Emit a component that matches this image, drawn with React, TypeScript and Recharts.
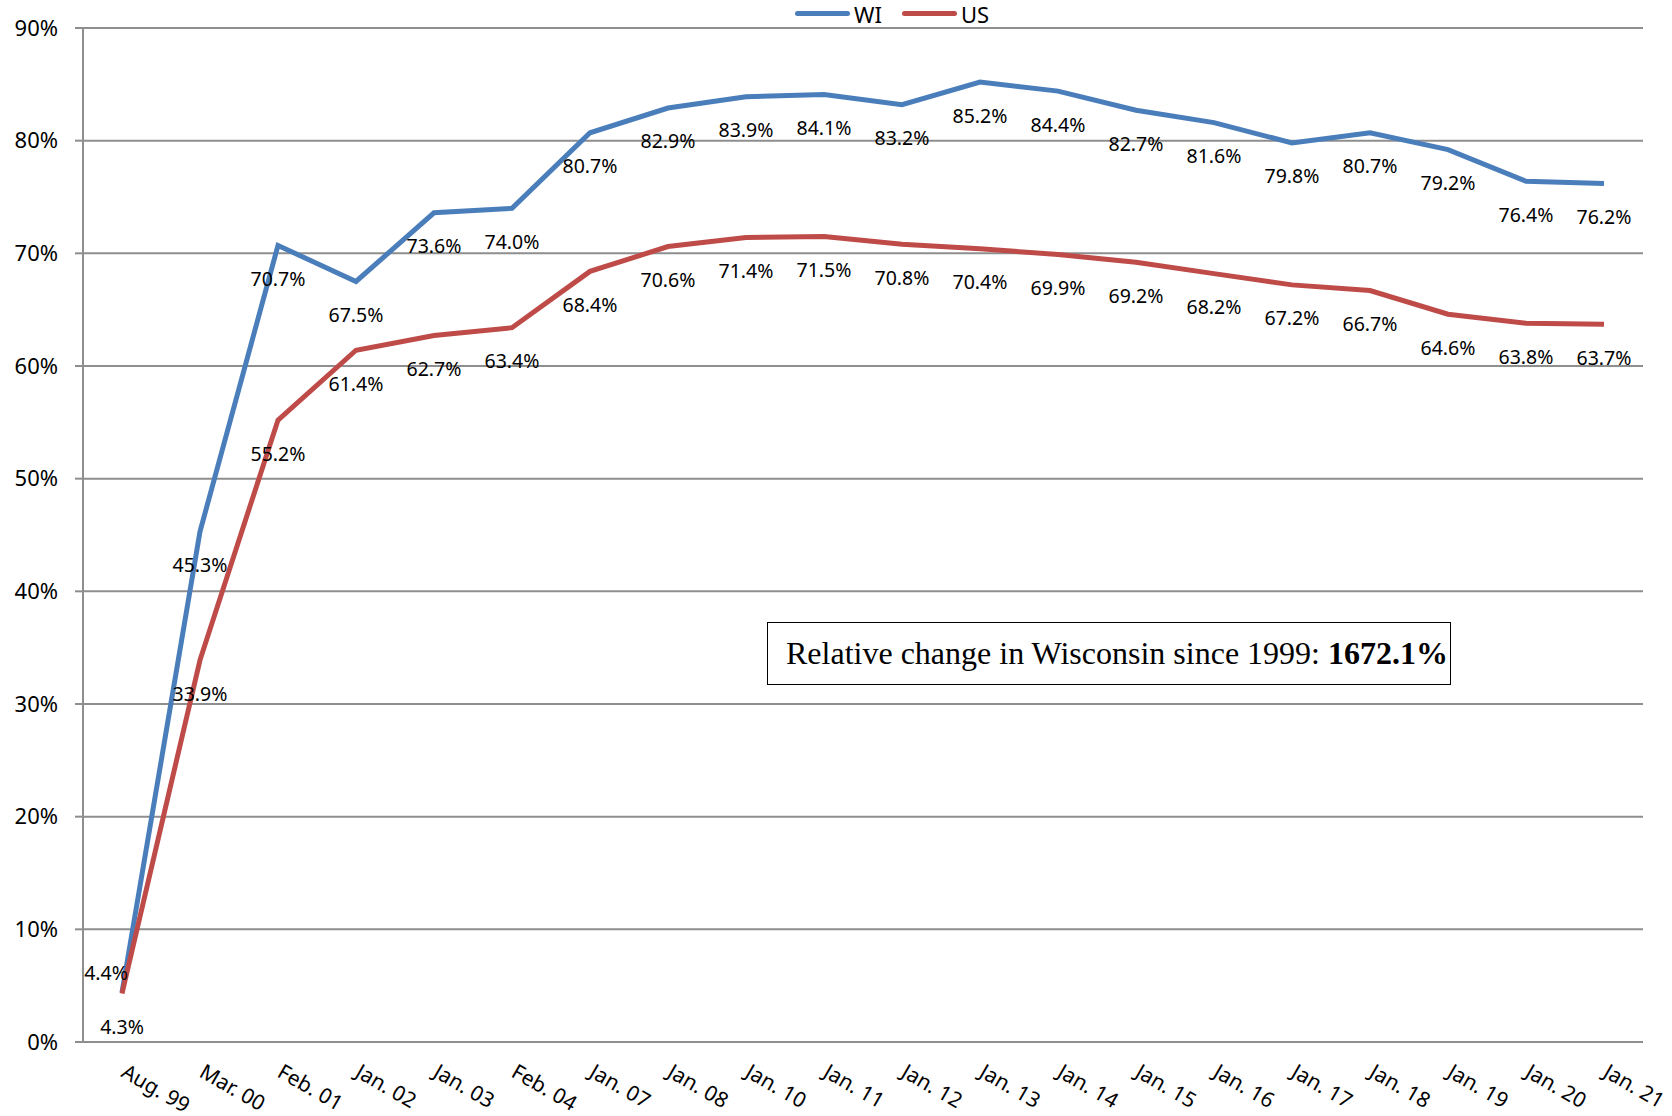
import React from 'react'
import {
  LineChart,
  Line,
  XAxis,
  YAxis,
  CartesianGrid,
  Legend,
  LabelList,
} from 'recharts'

const categories = [
  'Aug. 99', 'Mar. 00', 'Feb. 01', 'Jan. 02', 'Jan. 03', 'Feb. 04', 'Jan. 07',
  'Jan. 08', 'Jan. 10', 'Jan. 11', 'Jan. 12', 'Jan. 13', 'Jan. 14', 'Jan. 15',
  'Jan. 16', 'Jan. 17', 'Jan. 18', 'Jan. 19', 'Jan. 20', 'Jan. 21',
]

const wiValues = [
  4.4, 45.3, 70.7, 67.5, 73.6, 74.0, 80.7, 82.9, 83.9, 84.1,
  83.2, 85.2, 84.4, 82.7, 81.6, 79.8, 80.7, 79.2, 76.4, 76.2,
]

const usValues = [
  4.3, 33.9, 55.2, 61.4, 62.7, 63.4, 68.4, 70.6, 71.4, 71.5,
  70.8, 70.4, 69.9, 69.2, 68.2, 67.2, 66.7, 64.6, 63.8, 63.7,
]

const seriesOrder = ['WI', 'US']

const yTicks = [0, 10, 20, 30, 40, 50, 60, 70, 80, 90]

const data = categories.map((label, i) => ({
  label,
  WI: wiValues[i],
  US: usValues[i],
}))

const boundaryTicks = [...categories.map((_, i) => i), categories.length]

const FONT = '"Noto Sans", "Open Sans", sans-serif'
const GRAY = '#8e8e8e'
const BLUE = '#4a7ebb'
const RED = '#be4b48'

const XTick = ({ x, y, payload }: any) => (
  <g transform={`translate(${x - 2},${y + 26})`}>
    <text
      transform="rotate(30)"
      textAnchor="start"
      fontSize={21}
      fontFamily={FONT}
      fill="#000"
    >
      {payload.value}
    </text>
  </g>
)

const makeLabel = (series: string) => (props: any) => {
  const { x, y, value, index } = props
  // first WI label sits left of the point in the original
  const moved = series === 'WI' && index === 0
  return (
    <text
      x={moved ? x - 16 : x}
      y={moved ? y - 20 : y + 33}
      textAnchor="middle"
      dominantBaseline="central"
      fontSize={19.5}
      fontFamily={FONT}
      fill="#000"
    >
      {`${Number(value).toFixed(1)}%`}
    </text>
  )
}

const renderLegend = (props: any) => {
  const payload = [...(props.payload || [])].sort(
    (a: any, b: any) => seriesOrder.indexOf(a.value) - seriesOrder.indexOf(b.value)
  )
  return (
    <div
      style={{
        display: 'flex',
        justifyContent: 'center',
        alignItems: 'center',
        gap: 20,
        height: 28,
        paddingLeft: 141,
        fontFamily: FONT,
        fontSize: 22,
        color: '#000',
      }}
    >
      {payload.map((entry: any) => (
        <span
          key={entry.value}
          style={{ display: 'flex', alignItems: 'center', marginTop: -1 }}
        >
          <span
            style={{
              display: 'inline-block',
              width: 55,
              height: 5,
              borderRadius: 3,
              background: entry.color,
              marginRight: 4,
            }}
          />
          {entry.value}
        </span>
      ))}
    </div>
  )
}

export default function App() {
  return (
    <div
      style={{
        position: 'absolute',
        left: 0,
        top: 0,
        width: 1672,
        height: 1116,
        background: '#fff',
      }}
    >
      <LineChart
        width={1672}
        height={1116}
        data={data}
        margin={{ top: 0, right: 29, left: 0, bottom: 0 }}
      >
        <CartesianGrid
          xAxisId="cat"
          vertical={false}
          stroke={GRAY}
          strokeWidth={2}
        />
        <XAxis
          xAxisId="grid"
          type="number"
          domain={[0, categories.length]}
          ticks={boundaryTicks}
          allowDataOverflow
          tick={false}
          tickSize={8}
          height={0}
          axisLine={{ stroke: GRAY, strokeWidth: 2 }}
          tickLine={{ stroke: GRAY, strokeWidth: 2 }}
        />
        <XAxis
          xAxisId="cat"
          dataKey="label"
          scale="band"
          interval={0}
          height={74}
          axisLine={false}
          tickLine={false}
          tick={<XTick />}
        />
        <YAxis
          width={83}
          domain={[0, 90]}
          ticks={yTicks}
          tickFormatter={(v) => `${v}%`}
          tickSize={8}
          tickMargin={17}
          tick={{ fontSize: 22, fill: '#000', fontFamily: FONT }}
          axisLine={{ stroke: GRAY, strokeWidth: 2 }}
          tickLine={{ stroke: GRAY, strokeWidth: 2 }}
        />
        <Legend verticalAlign="top" content={renderLegend} />
        <Line
          xAxisId="cat"
          dataKey="WI"
          name="WI"
          stroke={BLUE}
          strokeWidth={5}
          dot={false}
          isAnimationActive={false}
        >
          <LabelList dataKey="WI" content={makeLabel('WI')} />
        </Line>
        <Line
          xAxisId="cat"
          dataKey="US"
          name="US"
          stroke={RED}
          strokeWidth={5}
          dot={false}
          isAnimationActive={false}
        >
          <LabelList dataKey="US" content={makeLabel('US')} />
        </Line>
      </LineChart>
      <div
        style={{
          position: 'absolute',
          left: 767,
          top: 622,
          width: 684,
          height: 63,
          boxSizing: 'border-box',
          border: '1.5px solid #000',
          background: '#fff',
          display: 'flex',
          alignItems: 'center',
          paddingLeft: 18,
          whiteSpace: 'nowrap',
          fontFamily: '"Liberation Serif", "Times New Roman", serif',
          fontSize: 32,
          color: '#000',
        }}
      >
        Relative change in Wisconsin since 1999:&nbsp;<b>1672.1%</b>
      </div>
    </div>
  )
}
